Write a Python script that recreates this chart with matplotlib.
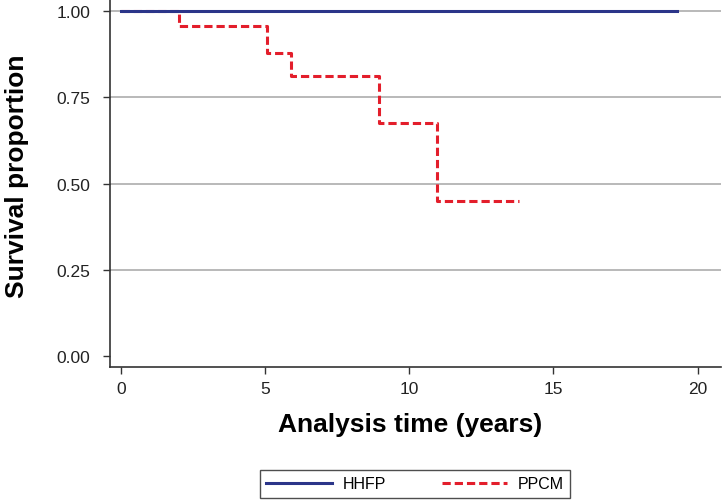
import numpy as np
import matplotlib.pyplot as plt

plt.rcParams['font.family'] = ['Liberation Sans', 'DejaVu Sans']

# Kaplan-Meier steps
hhfp_time = [0, 19.3]
hhfp_surv = [1.0, 1.0]

ppcm_time = [0, 2.0, 5.05, 5.9, 8.95, 10.95, 13.8]
ppcm_surv = [1.0, 0.957, 0.878, 0.811, 0.676, 0.450, 0.450]

xticks = [0, 5, 10, 15, 20]
yticks = [0.0, 0.25, 0.5, 0.75, 1.0]

fig = plt.figure(figsize=(7.28, 5.02), dpi=100)
ax = fig.add_axes([0.151, 0.267, 0.839, 0.733])

for y in yticks[1:]:
    ax.axhline(y, color='#b3b3b3', lw=1.3, zorder=1)

ax.step(hhfp_time, hhfp_surv, where='post', color='#2b3589', lw=2.2,
        label='HHFP', zorder=3)
ax.step(ppcm_time, ppcm_surv, where='post', color='#e31e2b', lw=2.2,
        ls=(0, (2.7, 1.3)), label='PPCM', zorder=2)

ax.set_xlim(-0.38, 20.8)
ax.set_ylim(-0.032, 1.035)
ax.set_xticks(xticks)
ax.set_xticklabels([str(t) for t in xticks])
ax.set_yticks(yticks)
ax.set_yticklabels([f"{t:.2f}" for t in yticks])

for s in ['top', 'right']:
    ax.spines[s].set_visible(False)
for s in ['left', 'bottom']:
    ax.spines[s].set_color('#333333')
    ax.spines[s].set_linewidth(1.2)

ax.tick_params(axis='both', direction='out', length=5, width=1,
               color='#333333', labelcolor='#222222', labelsize=12.5)
ax.tick_params(axis='y', pad=9)
ax.tick_params(axis='x', pad=5)

ax.set_ylabel('Survival proportion', fontsize=19, fontweight='bold')
ax.yaxis.set_label_coords(-0.1325, 0.522)
ax.set_xlabel('Analysis time (years)', fontsize=19, fontweight='bold', va='top')
ax.xaxis.set_label_coords(0.491, -0.122)

leg = ax.legend(loc='center', bbox_to_anchor=(415 / 728, 0.034),
                bbox_transform=fig.transFigure, ncol=2,
                frameon=True, fancybox=False, edgecolor='#222222',
                fontsize=11.5, handlelength=4.1, columnspacing=3.5,
                borderpad=0.38, handletextpad=0.65)
leg.get_frame().set_linewidth(1.0)

fig.savefig('out.png', dpi=100)
